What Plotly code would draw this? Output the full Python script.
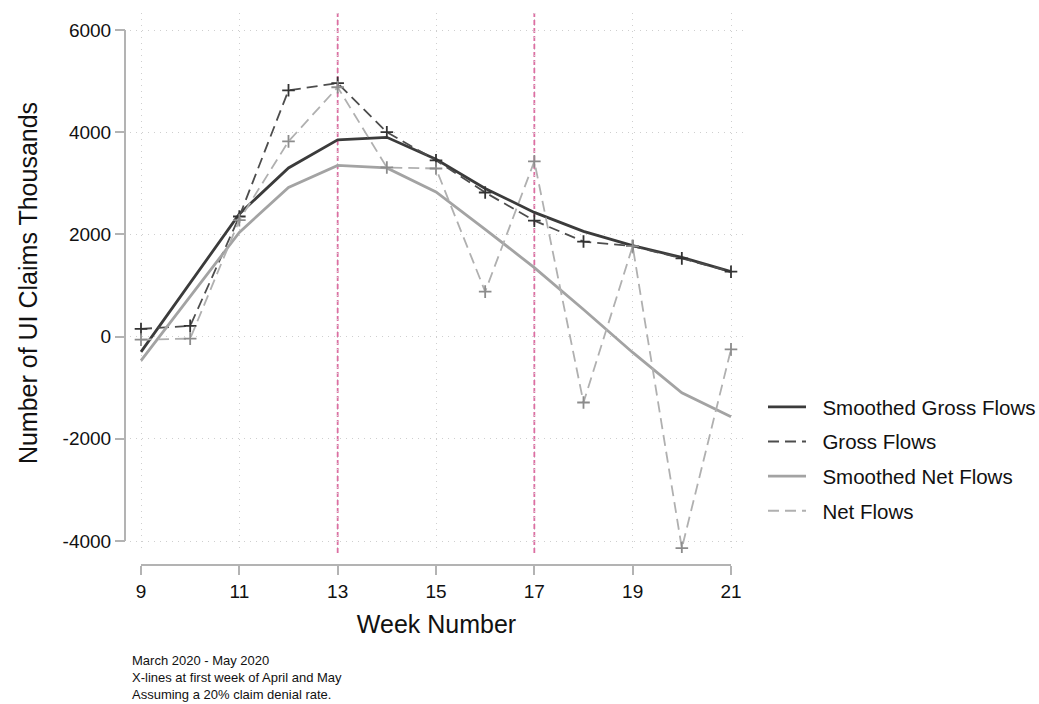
import plotly.graph_objects as go

weeks = [9, 10, 11, 12, 13, 14, 15, 16, 17, 18, 19, 20, 21]
smoothed_gross = [-300, 1050, 2400, 3300, 3850, 3900, 3470, 2900, 2430, 2060, 1780, 1550, 1270]
gross = [150, 210, 2350, 4820, 4960, 4000, 3450, 2820, 2270, 1860, 1770, 1530, 1270]
smoothed_net = [-470, 790, 2040, 2920, 3350, 3300, 2830, 2100, 1350, 530, -310, -1100, -1570]
net = [-60, -40, 2280, 3820, 4880, 3310, 3290, 880, 3430, -1290, 1770, -4140, -250]

x_ticks = [9, 11, 13, 15, 17, 19, 21]
y_ticks = [-4000, -2000, 0, 2000, 4000, 6000]
y_ticktext = ["-4000", "-2000", "0", "2000", "4000", "6000"]
x_lines = [13, 17]
notes = ["March 2020 - May 2020",
         "X-lines at first week of April and May",
         "Assuming a 20% claim denial rate."]
names = ["Smoothed Gross Flows", "Gross Flows", "Smoothed Net Flows", "Net Flows"]

FONT = "Liberation Sans, Arial, sans-serif"
W, H = 1039, 704
L, R, T, B = 125, 743, 13, 565  # paper area in px

styles = [
    dict(line=dict(color="#3b3b3b", width=2.8), marker=None),
    dict(line=dict(color="#4d4d4d", width=1.8, dash="11px,6px"),
         marker=dict(symbol="cross-thin", size=9, color="#333333", line=dict(color="#333333", width=1.8))),
    dict(line=dict(color="#a3a3a3", width=2.8), marker=None),
    dict(line=dict(color="#b0b0b0", width=1.8, dash="11px,6px"),
         marker=dict(symbol="cross-thin", size=9, color="#8c8c8c", line=dict(color="#8c8c8c", width=1.8))),
]
series = [smoothed_gross, gross, smoothed_net, net]

fig = go.Figure()
for nm, ys, st in zip(names, series, styles):
    if st["marker"] is None:
        fig.add_trace(go.Scatter(x=weeks, y=ys, mode="lines", name=nm, line=st["line"], showlegend=False))
    else:
        fig.add_trace(go.Scatter(x=weeks, y=ys, mode="lines+markers", name=nm, line=st["line"],
                                 marker=st["marker"], showlegend=False))
# legend entries (line samples only, as in the reference)
for i, (nm, st) in enumerate(zip(names, styles)):
    fig.add_trace(go.Scatter(x=[None], y=[None], mode="lines", name="\u00a0\u00a0" + nm,
                             line=st["line"], legendgroup="g%d" % i, showlegend=True))

for xv in x_lines:
    fig.add_shape(type="line", xref="x", yref="y domain", x0=xv, x1=xv, y0=0, y1=1,
                  line=dict(color="#dc6fa2", width=1.8, dash="5px,3px"), layer="below")

# axis lines spanning tick range
fig.add_shape(type="line", xref="paper", yref="y", x0=0, x1=0, y0=min(y_ticks), y1=max(y_ticks),
              line=dict(color="#b3b3b3", width=2))
fig.add_shape(type="line", xref="x", yref="paper", x0=min(x_ticks), x1=max(x_ticks), y0=0, y1=0,
              line=dict(color="#b3b3b3", width=2))

pw = R - L
ph = B - T
fig.add_annotation(text="<br>".join(notes), xref="paper", yref="paper", x=(130 - L) / pw, y=(B - 677) / ph,
                   xanchor="left", yanchor="middle", align="left", showarrow=False,
                   font=dict(family=FONT, size=13, color="#111111"))

x_left = 9 - 11 / 49.17
x_right = 21 + 12 / 49.17
ppu = 511 / 10000
y_top = 6000 + 17 / ppu
y_bot = -4000 - 12 / ppu

fig.update_layout(
    width=W, height=H,
    margin=dict(l=L, r=W - R, t=T, b=H - B, autoexpand=False),
    paper_bgcolor="white", plot_bgcolor="white",
    font=dict(family=FONT, color="#222222"),
    showlegend=True,
    legend=dict(xref="container", yref="container", x=763 / W, y=1 - 459 / H,
                xanchor="left", yanchor="middle",
                font=dict(family=FONT, size=20.5, color="#111111"),
                bgcolor="rgba(0,0,0,0)", itemwidth=38, traceorder="grouped", tracegroupgap=5),
    xaxis=dict(domain=[(130 - L) / pw, 1], range=[x_left, x_right], anchor="free", position=0,
               tickvals=x_ticks, ticks="outside", ticklen=9, tickwidth=1.5, tickcolor="#b3b3b3",
               showline=False, zeroline=False,
               showgrid=True, gridcolor="#cfcfcf", griddash="1px,5px", gridwidth=1.3,
               tickfont=dict(family=FONT, size=19, color="#111111"),
               title=dict(text="Week Number", font=dict(family=FONT, size=25, color="#111111"), standoff=14)),
    yaxis=dict(domain=[(B - 553) / ph, 1], range=[y_bot, y_top], anchor="free", position=0,
               tickvals=y_ticks, ticktext=y_ticktext, ticks="outside", ticklen=10, tickwidth=1.5,
               tickcolor="#b3b3b3", showline=False, zeroline=False,
               showgrid=True, gridcolor="#cfcfcf", griddash="1px,5px", gridwidth=1.3,
               tickfont=dict(family=FONT, size=19, color="#111111"),
               title=dict(text="Number of UI Claims Thousands", font=dict(family=FONT, size=25, color="#111111"), standoff=16)),
)

fig.write_html("out.html")
